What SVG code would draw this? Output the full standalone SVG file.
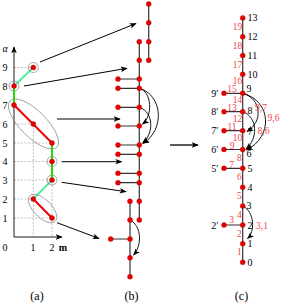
<svg xmlns="http://www.w3.org/2000/svg" width="281" height="306" viewBox="0 0 281 306">
<style>
text{font-family:"Liberation Serif","DejaVu Serif",serif;fill:#000}
.n{fill:#e80000;stroke:#b00000;stroke-width:0.4}
.e{stroke:#333;stroke-width:1.2;fill:none}
.d{stroke:#999;stroke-width:0.6;stroke-dasharray:2 1.5;fill:none}
.ring{stroke:#808080;stroke-width:0.7;fill:none}
.ar{stroke:#000;stroke-width:1;fill:none;marker-end:url(#ah)}
.arc{stroke:#000;stroke-width:0.9;fill:none;marker-end:url(#ah)}
.t{font-size:10px;dominant-baseline:central}
.rl{font-size:9.5px;fill:#f24545;text-anchor:middle;dominant-baseline:central}
.cap{font-size:12px;text-anchor:middle}
</style>
<defs>
<marker id="ah" viewBox="0 0 10 10" refX="9" refY="5" markerWidth="7" markerHeight="7" markerUnits="userSpaceOnUse" orient="auto"><path d="M0,1 L10,5 L0,9 L2.5,5z" fill="#000"/></marker>
</defs>

<!-- panel (a) -->
<g id="panel-a">
  <g id="a-grid">
    <path class="d" d="M14,67.5H33.3M14,124H33.3M14,143H52M14,161.5H52M14,180H52M14,199H33.3M14,218H52M33.3,124V237M52,143V237"/>
  </g>
  <g id="a-axes">
    <path d="M14,237V47" stroke="#000" stroke-width="0.9" marker-end="url(#ah)"/>
    <path d="M14,237H62" stroke="#000" stroke-width="0.9" marker-end="url(#ah)"/>
    <text class="t" x="5" y="48" text-anchor="middle" font-style="italic">α</text>
    <text class="t" x="5" y="67.5" text-anchor="middle">9</text>
    <text class="t" x="5" y="86" text-anchor="middle">8</text>
    <text class="t" x="5" y="105" text-anchor="middle">7</text>
    <text class="t" x="5" y="124" text-anchor="middle">6</text>
    <text class="t" x="5" y="143" text-anchor="middle">5</text>
    <text class="t" x="5" y="161.5" text-anchor="middle">4</text>
    <text class="t" x="5" y="180" text-anchor="middle">3</text>
    <text class="t" x="5" y="199" text-anchor="middle">2</text>
    <text class="t" x="5" y="218" text-anchor="middle">1</text>
    <text class="t" x="5" y="247" text-anchor="middle">0</text>
    <text class="t" x="33" y="247" text-anchor="middle">1</text>
    <text class="t" x="52" y="247" text-anchor="middle">2</text>
    <text class="t" x="63" y="247" text-anchor="middle" font-weight="bold">m</text>
  </g>
  <g id="a-path">
    <path d="M33.3,67.5L14,86" stroke="#50eea0" stroke-width="2"/>
    <path d="M14,86V105" stroke="#22dd00" stroke-width="2"/>
    <path d="M14,105L52,143" stroke="#ee0000" stroke-width="2"/>
    <path d="M52,143V180" stroke="#22dd00" stroke-width="2"/>
    <path d="M52,180L33.3,199" stroke="#50eea0" stroke-width="2"/>
    <path d="M33.3,199L52,218" stroke="#ee0000" stroke-width="2"/>
  </g>
  <g id="a-groups">
    <circle class="ring" cx="33.3" cy="67.5" r="5"/>
    <circle class="ring" cx="14" cy="86" r="5"/>
    <circle class="ring" cx="52" cy="161.5" r="5"/>
    <circle class="ring" cx="52" cy="180" r="5"/>
    <ellipse class="ring" cx="33.5" cy="124" rx="33" ry="13" transform="rotate(45 33.5 124)"/>
    <ellipse class="ring" cx="42.6" cy="208.5" rx="18" ry="9" transform="rotate(45 42.6 208.5)"/>
  </g>
  <g id="a-nodes">
    <circle class="n" cx="33.3" cy="67.5" r="2.5"/>
    <circle class="n" cx="14" cy="86" r="2.5"/>
    <circle class="n" cx="14" cy="105" r="2.5"/>
    <circle class="n" cx="33.3" cy="124" r="2.5"/>
    <circle class="n" cx="52" cy="143" r="2.5"/>
    <circle class="n" cx="52" cy="161.5" r="2.5"/>
    <circle class="n" cx="52" cy="180" r="2.5"/>
    <circle class="n" cx="33.3" cy="199" r="2.5"/>
    <circle class="n" cx="52" cy="218" r="2.5"/>
  </g>
</g>

<!-- connectors between panels -->
<g id="connectors">
  <path class="ar" d="M40,62L136,23.5"/>
  <path class="ar" d="M24,86L127,68.3"/>
  <path class="ar" d="M57,119H120"/>
  <path class="ar" d="M61.7,161.7H121.7"/>
  <path class="ar" d="M61.7,182.3L126,191.7"/>
  <path class="ar" d="M57,222.7L99,238.5"/>
  <path d="M170,145H198" stroke="#000" stroke-width="1.3" marker-end="url(#ah)"/>
</g>

<!-- panel (b) -->
<g id="panel-b">
  <g id="b-edges">
    <path class="e" d="M148.7,4V60.3M139.3,41.7V220M130,201.3V276.7"/>
    <path class="e" d="M118,79H139.3M118,88.3H139.3M118,107.3H139.3M118,126H139.3M118,145H139.3M118,154.3H139.3M118,173.3H139.3M118,182.7H139.3M110.7,239H130"/>
  </g>
  <g id="b-arcs">
    <path class="arc" d="M139.3,88.3C152,92 153,116 142.5,124"/>
    <path class="arc" d="M139.3,88.3C163,95 165,130 143,143.5"/>
    <path class="arc" d="M139.3,107.3C154,112 154,134 142.5,143"/>
    <path class="arc" d="M130,220C142,226 142,246 133.5,255"/>
  </g>
  <g id="b-nodes">
    <circle class="n" cx="148.7" cy="4" r="2.5"/>
    <circle class="n" cx="148.7" cy="22.7" r="2.5"/>
    <circle class="n" cx="148.7" cy="41.7" r="2.5"/>
    <circle class="n" cx="148.7" cy="60.3" r="2.5"/>
    <circle class="n" cx="139.3" cy="41.7" r="2.5"/>
    <circle class="n" cx="139.3" cy="60.3" r="2.5"/>
    <circle class="n" cx="139.3" cy="79" r="2.5"/>
    <circle class="n" cx="139.3" cy="88.3" r="2.5"/>
    <circle class="n" cx="139.3" cy="107.3" r="2.5"/>
    <circle class="n" cx="139.3" cy="126" r="2.5"/>
    <circle class="n" cx="139.3" cy="145" r="2.5"/>
    <circle class="n" cx="139.3" cy="154.3" r="2.5"/>
    <circle class="n" cx="139.3" cy="173.3" r="2.5"/>
    <circle class="n" cx="139.3" cy="182.7" r="2.5"/>
    <circle class="n" cx="139.3" cy="201.3" r="2.5"/>
    <circle class="n" cx="139.3" cy="220" r="2.5"/>
    <circle class="n" cx="118" cy="79" r="2.5"/>
    <circle class="n" cx="118" cy="88.3" r="2.5"/>
    <circle class="n" cx="118" cy="107.3" r="2.5"/>
    <circle class="n" cx="118" cy="126" r="2.5"/>
    <circle class="n" cx="118" cy="145" r="2.5"/>
    <circle class="n" cx="118" cy="154.3" r="2.5"/>
    <circle class="n" cx="118" cy="173.3" r="2.5"/>
    <circle class="n" cx="118" cy="182.7" r="2.5"/>
    <circle class="n" cx="130" cy="201.3" r="2.5"/>
    <circle class="n" cx="130" cy="220" r="2.5"/>
    <circle class="n" cx="130" cy="239" r="2.5"/>
    <circle class="n" cx="130" cy="257.7" r="2.5"/>
    <circle class="n" cx="130" cy="276.7" r="2.5"/>
    <circle class="n" cx="110.7" cy="239" r="2.5"/>
  </g>
</g>

<!-- panel (c) -->
<g id="panel-c">
  <g id="c-edges">
    <path class="e" d="M242.7,17.9V262.3"/>
    <path class="e" d="M224,93.3H242.7M224,111.7H242.7M224,130.7H242.7M224,149.5H242.7M224,168.3H242.7M224,225H242.7"/>
  </g>
  <g id="c-arcs">
    <path class="arc" d="M242.7,93.3C262,99 263,122 247,131.5"/>
    <path class="arc" d="M242.7,93.3C272,101 273,137 246.5,150"/>
    <path class="arc" d="M242.7,111.7C258,117 258,139 246,149"/>
    <path class="arc" d="M242.7,206C255,212 255,232 247.5,238.5"/>
  </g>
  <g id="c-edge-labels">
    <text class="rl" x="237.5" y="26.7">19</text>
    <text class="rl" x="237.5" y="45.5">18</text>
    <text class="rl" x="237.5" y="64.5">17</text>
    <text class="rl" x="237.5" y="81.3">16</text>
    <text class="rl" x="232" y="89.2">15</text>
    <text class="rl" x="237.5" y="100.3">14</text>
    <text class="rl" x="232" y="108.2">13</text>
    <text class="rl" x="237.5" y="119.3">12</text>
    <text class="rl" x="232" y="127.2">11</text>
    <text class="rl" x="237.5" y="138">10</text>
    <text class="rl" x="232" y="145.8">9</text>
    <text class="rl" x="239.3" y="157.8">8</text>
    <text class="rl" x="231.5" y="164.5">7</text>
    <text class="rl" x="239.3" y="177.3">6</text>
    <text class="rl" x="239.3" y="196">5</text>
    <text class="rl" x="239.3" y="214.5">4</text>
    <text class="rl" x="231.5" y="219.8">3</text>
    <text class="rl" x="239.3" y="234.3">2</text>
    <text class="rl" x="239.3" y="252">1</text>
    <text class="rl" x="261" y="107.7">9,7</text>
    <text class="rl" x="273.5" y="117.7">9,6</text>
    <text class="rl" x="263.5" y="130.7">8,6</text>
    <text class="rl" x="262" y="225.7">3,1</text>
  </g>
  <g id="c-nodes">
    <g id="c13"><circle class="n" cx="242.7" cy="17.9" r="2.5"/><text class="t" x="247.5" y="17.9">13</text></g>
    <g id="c12"><circle class="n" cx="242.7" cy="36.7" r="2.5"/><text class="t" x="247.5" y="36.7">12</text></g>
    <g id="c11"><circle class="n" cx="242.7" cy="55.5" r="2.5"/><text class="t" x="247.5" y="55.5">11</text></g>
    <g id="c10"><circle class="n" cx="242.7" cy="74.3" r="2.5"/><text class="t" x="247.5" y="74.3">10</text></g>
    <g id="c9"><circle class="n" cx="242.7" cy="93.3" r="2.5"/><text class="t" x="246.5" y="88.8">9</text></g>
    <g id="c8"><circle class="n" cx="242.7" cy="111.7" r="2.5"/><text class="t" x="247.5" y="110.5">8</text></g>
    <g id="c7"><circle class="n" cx="242.7" cy="130.7" r="2.5"/><text class="t" x="247.5" y="131.5">7</text></g>
    <g id="c6"><circle class="n" cx="242.7" cy="149.5" r="2.5"/><text class="t" x="246.5" y="153">6</text></g>
    <g id="c5"><circle class="n" cx="242.7" cy="168.3" r="2.5"/><text class="t" x="247.5" y="168.3">5</text></g>
    <g id="c4"><circle class="n" cx="242.7" cy="187.3" r="2.5"/><text class="t" x="247.5" y="187.3">4</text></g>
    <g id="c3"><circle class="n" cx="242.7" cy="206" r="2.5"/><text class="t" x="246.5" y="205">3</text></g>
    <g id="c2"><circle class="n" cx="242.7" cy="225" r="2.5"/><text class="t" x="247.5" y="225">2</text></g>
    <g id="c1"><circle class="n" cx="242.7" cy="243.7" r="2.5"/><text class="t" x="247.5" y="243.7">1</text></g>
    <g id="c0"><circle class="n" cx="242.7" cy="262.3" r="2.5"/><text class="t" x="247.5" y="262.3">0</text></g>
    <g id="c9p"><circle class="n" cx="224" cy="93.3" r="2.5"/><text class="t" x="218.5" y="93.3" text-anchor="end">9′</text></g>
    <g id="c8p"><circle class="n" cx="224" cy="111.7" r="2.5"/><text class="t" x="218.5" y="111.7" text-anchor="end">8′</text></g>
    <g id="c7p"><circle class="n" cx="224" cy="130.7" r="2.5"/><text class="t" x="218.5" y="130.7" text-anchor="end">7′</text></g>
    <g id="c6p"><circle class="n" cx="224" cy="149.5" r="2.5"/><text class="t" x="218.5" y="149.5" text-anchor="end">6′</text></g>
    <g id="c5p"><circle class="n" cx="224" cy="168.3" r="2.5"/><text class="t" x="218.5" y="168.3" text-anchor="end">5′</text></g>
    <g id="c2p"><circle class="n" cx="224" cy="225" r="2.5"/><text class="t" x="218.5" y="225" text-anchor="end">2′</text></g>
  </g>
</g>

<g id="captions">
  <text class="cap" x="37" y="300">(a)</text>
  <text class="cap" x="131.5" y="300">(b)</text>
  <text class="cap" x="241.5" y="300">(c)</text>
</g>
</svg>
